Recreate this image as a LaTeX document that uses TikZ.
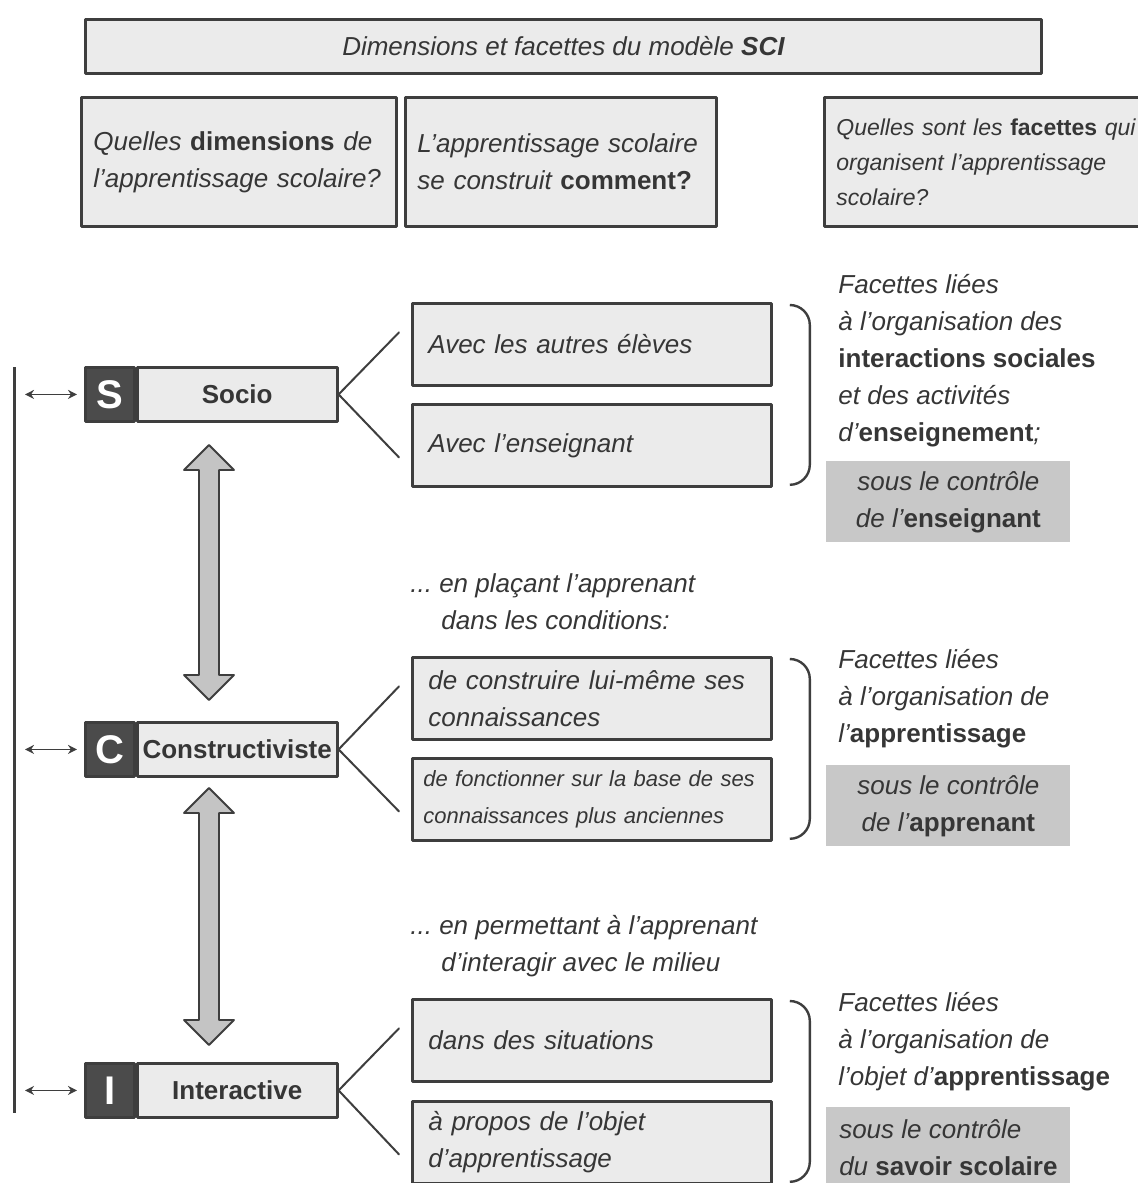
\documentclass[tikz,border=0pt]{standalone}
\usepackage{fontspec}
\setmainfont{Liberation Sans}
\usetikzlibrary{calc,arrows.meta,positioning}
\definecolor{sci-ink}{HTML}{363636}
\definecolor{sci-line}{HTML}{3E3E3E}
\definecolor{sci-box}{HTML}{EBEBEB}
\definecolor{sci-dark}{HTML}{4B4B4B}
\definecolor{sci-shade}{HTML}{C8C8C8}
\definecolor{sci-arrow}{HTML}{C4C4C4}

\newcommand{\sciTxt}{\fontsize{13}{18.5}\selectfont}
\newcommand{\sciSmall}{\fontsize{11.5}{17.5}\selectfont}
\newcommand{\hl}[1]{\textbf{\upshape #1}}
% double fleche grise entre deux dimensions (x, y haut, y bas)
\newcommand{\bigtwoway}[3]{%
  \filldraw[bigarr] (#1,#2) -- ({#1+25},{#2+25}) -- ({#1+10},{#2+25}) -- ({#1+10},{#3-25})
    -- ({#1+25},{#3-25}) -- (#1,#3) -- ({#1-25},{#3-25}) -- ({#1-10},{#3-25})
    -- ({#1-10},{#2+25}) -- ({#1-25},{#2+25}) -- cycle;}
% accolade a droite de deux boites
\newcommand{\facetbrace}[2]{%
  \draw[brace] ([xshift=8.5pt,yshift=-1.5pt]#1.north east) to[out=0,in=90] ++(10pt,-10pt)
    -- ([xshift=18.5pt,yshift=11.5pt]#2.south east) to[out=-90,in=0] ++(-10pt,-10pt);}

\tikzset{
  qbox/.style={draw=sci-line, fill=sci-box, line width=1.4pt, anchor=north west,
    inner xsep=6pt, inner ysep=0pt, font=\sciTxt\itshape, text=sci-ink},
  facbox/.style={qbox, minimum width=179.5pt, minimum height=41pt, text width=163.5pt,
    inner xsep=8pt, align=left},
  letterbox/.style={draw=sci-line, fill=sci-dark, line width=1.4pt, anchor=north west,
    minimum width=24.5pt, minimum height=27pt, inner sep=0pt, text=white,
    font=\fontsize{20}{20}\selectfont\bfseries},
  dimbox/.style={draw=sci-line, fill=sci-box, line width=1.4pt, minimum width=100pt,
    minimum height=27pt, inner sep=0pt, right=0pt of #1, text=sci-ink,
    font=\sciTxt\bfseries},
  shade/.style={fill=sci-shade, anchor=north west, minimum width=122pt, minimum height=40.5pt,
    inner xsep=4pt, inner ysep=0pt, align=center, font=\sciTxt\itshape, text=sci-ink},
  facet/.style={anchor=north west, inner sep=0pt, align=left, font=\sciTxt\itshape,
    text=sci-ink},
  link/.style={draw=sci-line, line width=1pt, line cap=round},
  twoway/.style={draw=sci-line, line width=0.8pt,
    {Stealth[length=4.5pt,width=4.5pt]}-{Stealth[length=4.5pt,width=4.5pt]}},
  brace/.style={draw=sci-line, line width=1.2pt},
  bigarr/.style={draw=sci-line, fill=sci-arrow, line width=0.9pt}
}

\begin{document}
\begin{tikzpicture}[x=0.5pt, y=-0.5pt, line join=round]
    \useasboundingbox (0,0) rectangle (1137,1183);

    % en-tete
    \node[qbox, minimum width=478pt, minimum height=27pt, align=center] (title) at (84,18)
        {Dimensions et facettes du modèle \textbf{SCI}};
    \node[qbox, minimum width=157.5pt, minimum height=64.5pt, text width=145.5pt, align=left] (qdim) at (80,96)
        {Quelles \hl{dimensions} de\\l'apprentissage scolaire?};
    \node[qbox, minimum width=155.5pt, minimum height=64.5pt, text width=143.5pt, align=left] (qhow) at (404,96)
        {L'apprentissage scolaire\\se construit \hl{comment?}};
    \node[qbox, minimum width=165pt, minimum height=64.5pt, text width=153pt, align=left, font=\sciSmall\itshape] (qfac) at (823,96)
        {Quelles sont les \hl{facettes} qui\\organisent l'apprentissage\\scolaire?};

    % axe et dimensions S C I
    \coordinate (axtop) at (14,367);
    \coordinate (axbot) at (14,1113);
    \draw[draw=sci-line, line width=1.5pt] (axtop) -- (axbot);

    \node[letterbox] (dimS) at (84,366) {S};
    \node[dimbox=dimS] (socio) {Socio};
    \node[letterbox] (dimC) at (84,721) {C};
    \node[dimbox=dimC] (constr) {Constructiviste};
    \node[letterbox] (dimI) at (84,1062) {I};
    \node[dimbox=dimI] (inter) {Interactive};

    \foreach \d in {dimS,dimC,dimI}
        \draw[twoway, shorten <=5.5pt, shorten >=3.5pt] (\d.west -| axtop) -- (\d.west);

    \bigtwoway{209}{445}{700}
    \bigtwoway{209}{788}{1045}

    % Socio
    \node[facbox] (autres) at (411,302) {Avec les autres élèves};
    \node[facbox] (ens) at (411,403) {Avec l'enseignant};
    \draw[link] (socio.east) -- ([xshift=-6pt,yshift=6pt]autres.west);
    \draw[link] (socio.east) -- ([xshift=-6pt,yshift=-6pt]ens.west);
    \facetbrace{autres}{ens}
    \node[facet] (facS) at (838,274)
        {Facettes liées\\à l'organisation des\\\hl{interactions sociales}\\et des activités\\d'\hl{enseignement};};
    \node[shade] (ctrlS) at (826,461) {sous le contrôle\\de l'\hl{enseignant}};

    % Constructiviste
    \node[facet] (condC) at (410,573)
        {...\ en plaçant l'apprenant\\\hspace*{15.5pt}dans les conditions:};
    \node[facbox] (construire) at (411,656) {de construire lui-même ses\\connaissances};
    \node[facbox, inner xsep=5.5pt, text width=168.5pt, font=\fontsize{11}{18.5}\selectfont\itshape] (fonction) at (411,757)
        {de fonctionner sur la base de ses\\connaissances plus anciennes};
    \draw[link] (constr.east) -- ([xshift=-6pt,yshift=6pt]construire.west);
    \draw[link] (constr.east) -- ([xshift=-6pt,yshift=-6pt]fonction.west);
    \facetbrace{construire}{fonction}
    \node[facet] (facC) at (838,649)
        {Facettes liées\\à l'organisation de\\l'\hl{apprentissage}};
    \node[shade] (ctrlC) at (826,765) {sous le contrôle\\de l'\hl{apprenant}};

    % Interactive
    \node[facet] (condI) at (410,915)
        {...\ en permettant à l'apprenant\\\hspace*{15.5pt}d'interagir avec le milieu};
    \node[facbox] (situ) at (411,998) {dans des situations};
    \node[facbox] (objet) at (411,1100) {à propos de l'objet\\d'apprentissage};
    \draw[link] (inter.east) -- ([xshift=-6pt,yshift=6pt]situ.west);
    \draw[link] (inter.east) -- ([xshift=-6pt,yshift=-6pt]objet.west);
    \facetbrace{situ}{objet}
    \node[facet] (facI) at (838,992)
        {Facettes liées\\à l'organisation de\\l'objet d'\hl{apprentissage}};
    \node[shade, align=left] (ctrlI) at (826,1107) {sous le contrôle\\du \hl{savoir scolaire}};
\end{tikzpicture}
\end{document}
